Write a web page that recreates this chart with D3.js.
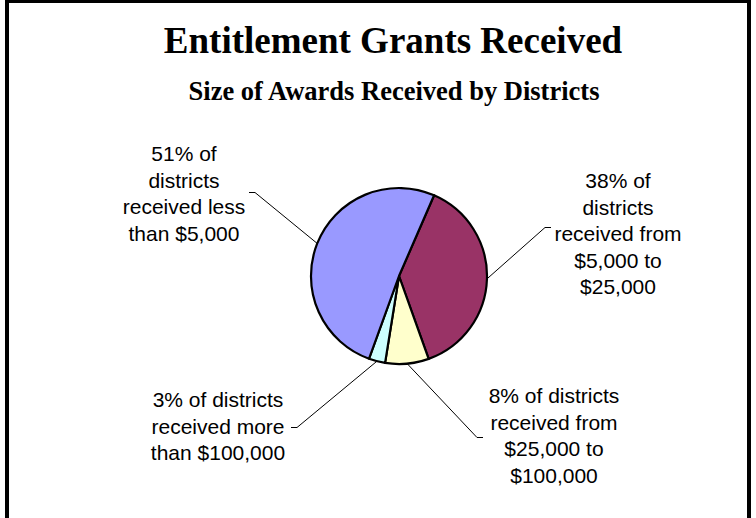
<!DOCTYPE html>
<html>
<head>
<meta charset="utf-8">
<script src="https://cdn.jsdelivr.net/npm/d3@7"></script>
<style>
  html, body { margin: 0; padding: 0; background: #fff; }
  svg { display: block; }
</style>
</head>
<body>
<svg id="chart" width="756" height="518"></svg>
<script>
// Award size groups, in clockwise drawing order
const categories = [
  "$5,000 to $25,000",
  "$25,000 to $100,000",
  "more than $100,000",
  "less than $5,000"
];
// Share of districts in each group (%)
const shares = [38, 8, 3, 51];
const sliceColors = ["#993366", "#FFFFCC", "#CCFFFF", "#9999FF"];
// Text of each data label, one entry per line
const labelText = [
  ["38% of", "districts", "received from", "$5,000 to", "$25,000"],
  ["8% of districts", "received from", "$25,000 to", "$100,000"],
  ["3% of districts", "received more", "than $100,000"],
  ["51% of", "districts", "received less", "than $5,000"]
];

const title = "Entitlement Grants Received";
const subtitle = "Size of Awards Received by Districts";

// Layout
const W = 756, H = 518;
const cx = 399, cy = 276, R = 88;
const startDeg = 23.5;
const lineH = 26.5;
// label anchor: centre x, first baseline, leader stub end at the label (x,y),
// and the side the stub points to (+1 right, -1 left)
const labelPos = [
  { x: 618, y: 188, sx: 551, sy: 227.5, dir: -1 },
  { x: 554, y: 403, sx: 483, sy: 437.5, dir: -1 },
  { x: 218, y: 407, sx: 291, sy: 427.5, dir: 1 },
  { x: 184, y: 161, sx: 249, sy: 192.5, dir: 1 }
];

const svg = d3.select("#chart");

// chart frame
svg.append("rect")
  .attr("x", 7).attr("y", 1)
  .attr("width", 742).attr("height", 620)
  .attr("fill", "#fff")
  .attr("stroke", "#000")
  .attr("stroke-width", 4);

svg.append("text")
  .attr("x", 393).attr("y", 53)
  .attr("text-anchor", "middle")
  .attr("font-family", "'Times New Roman', 'Liberation Serif', serif")
  .attr("font-weight", "bold")
  .attr("font-size", 37)
  .text(title);

svg.append("text")
  .attr("x", 394).attr("y", 100)
  .attr("text-anchor", "middle")
  .attr("font-family", "'Times New Roman', 'Liberation Serif', serif")
  .attr("font-weight", "bold")
  .attr("font-size", 26.5)
  .text(subtitle);

const a0 = startDeg * Math.PI / 180;
const pie = d3.pie().sort(null).value(d => d)
  .startAngle(a0).endAngle(a0 + 2 * Math.PI);
const arcs = pie(shares);
const arc = d3.arc().innerRadius(0).outerRadius(R);

const g = svg.append("g").attr("transform", `translate(${cx},${cy})`);
g.selectAll("path.slice")
  .data(arcs)
  .join("path")
  .attr("class", "slice")
  .attr("d", arc)
  .attr("fill", (d, i) => sliceColors[i])
  .attr("stroke", "#000")
  .attr("stroke-width", 2.2)
  .attr("stroke-linejoin", "round");

// leader lines: from slice edge midpoint to the label
const leaders = svg.append("g")
  .attr("fill", "none")
  .attr("stroke", "#000")
  .attr("stroke-width", 1);
arcs.forEach((d, i) => {
  const m = (d.startAngle + d.endAngle) / 2;
  const px = cx + R * Math.sin(m), py = cy - R * Math.cos(m);
  const p = labelPos[i];
  const kx = p.sx + p.dir * 6;
  leaders.append("path")
    .attr("d", `M${px},${py}L${kx},${p.sy}L${p.sx},${p.sy}`);
});

// data labels
const labels = svg.append("g")
  .attr("font-family", "Arial, 'Liberation Sans', sans-serif")
  .attr("font-size", 21)
  .attr("fill", "#000")
  .attr("text-anchor", "middle");
labelText.forEach((lines, i) => {
  const p = labelPos[i];
  const t = labels.append("text");
  lines.forEach((s, j) => {
    t.append("tspan").attr("x", p.x).attr("y", p.y + j * lineH).text(s);
  });
});
</script>
</body>
</html>
